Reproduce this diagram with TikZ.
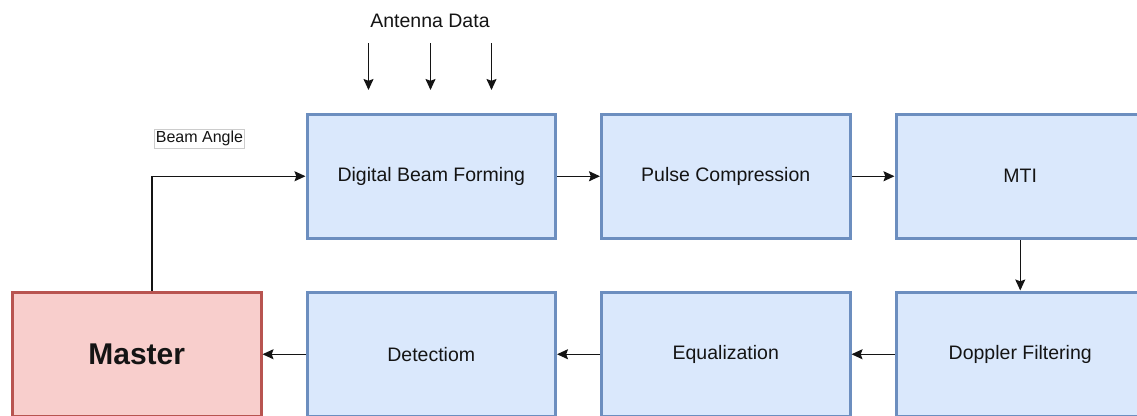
\documentclass[tikz,border=0pt]{standalone}
\usepackage{fontspec}
\setmainfont{Liberation Sans}
\usetikzlibrary{arrows.meta,calc}
\definecolor{blfill}{HTML}{DAE8FC}
\definecolor{bldraw}{HTML}{6C8EBF}
\definecolor{rdfill}{HTML}{F8CECC}
\definecolor{rddraw}{HTML}{B85450}
\definecolor{ink}{HTML}{141414}
\begin{document}
\begin{tikzpicture}[x=1pt,y=-1pt,
  stage/.style={draw=bldraw, fill=blfill, line width=3pt,
    minimum width=248.5pt, minimum height=124.5pt, inner sep=0pt,
    font=\fontsize{19.5}{22}\selectfont, text=ink},
  masterbox/.style={stage, draw=rddraw, fill=rdfill,
    font=\fontsize{30}{34}\selectfont\bfseries},
  tag/.style={draw=black!20, line width=0.6pt, inner xsep=1.5pt, inner ysep=2pt,
    font=\fontsize{16}{18}\selectfont, text=ink},
  caption/.style={inner sep=0pt, font=\fontsize{19.5}{22}\selectfont, text=ink},
  flow/.style={-{Stealth[length=11pt,width=10pt,inset=1.8pt]}, line width=1.4pt, draw=ink}
]
\path[use as bounding box, clip] (0,0) rectangle (1137,415);

% processing chain, top row
\node[stage] (dbf) at (431.25,176.25) {Digital Beam Forming};
\node[stage] (pc)  at (725.75,176.25) {Pulse Compression};
\node[stage] (mti) at (1020.25,176.25) {MTI};

% processing chain, bottom row
\node[masterbox] (master) at (136.75,354.25) {Master};
\node[stage] (det) at (431.25,354.25) {Detectiom};
\node[stage] (eq)  at (725.75,354.25) {Equalization};
\node[stage] (dop) at (1020.25,354.25) {Doppler Filtering};

% labels
\node[caption] (ant) at (430,21) {Antenna Data};
\node[tag] (beam) at (199.5,138.5) {Beam Angle};

% antenna inputs
\foreach \i/\x in {1/368.5, 2/430.5, 3/491.5} {
  \coordinate (a\i s) at (\x,43);
  \coordinate (a\i e) at (\x,90);
  \draw[flow] (a\i s) -- (a\i e);
}

% chain connectors
\draw[flow] (dbf) -- (pc);
\draw[flow] (pc) -- (mti);
\draw[flow] (mti) -- (dop);
\draw[flow] (dop) -- (eq);
\draw[flow] (eq) -- (det);
\draw[flow] (det) -- (master);

% beam angle feedback
\coordinate (bstart) at ($(master.north)+(15.25,0)$);
\draw[flow] (bstart) |- (dbf.west);
\end{tikzpicture}
\end{document}
